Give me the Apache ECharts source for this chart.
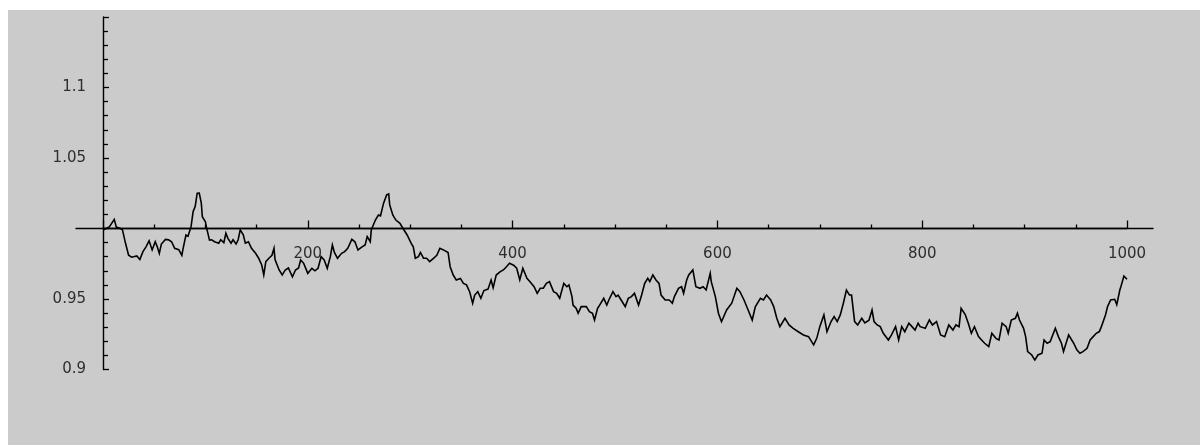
<!DOCTYPE html>
<html>
<head>
<meta charset="utf-8">
<script src="https://cdn.jsdelivr.net/npm/echarts@6/dist/echarts.min.js"></script>
<style>
  html, body { margin: 0; padding: 0; background: #ffffff; }
  #chart { position: absolute; left: 8px; top: 10px; width: 1192px; height: 435px; background: #cbcbcb; }
</style>
</head>
<body>
<div id="chart"></div>
<script>
// Step index of each sample along the walk
const steps = [
  0, 3, 6, 11, 13, 17, 19, 22, 25, 28, 33, 36, 39, 42, 45, 48, 51, 53, 55, 57,
  61, 64, 67, 70, 74, 77, 78, 81, 83, 86, 88, 90, 92, 94, 96, 97, 100, 101, 104, 106,
  109, 113, 115, 118, 120, 122, 125, 127, 130, 132, 134, 137, 139, 142, 145, 149, 152, 155, 157, 159,
  162, 165, 167, 168, 172, 175, 178, 181, 185, 188, 191, 193, 196, 200, 204, 207, 210, 213, 216, 219,
  222, 224, 226, 229, 233, 236, 239, 243, 246, 249, 253, 256, 258, 261, 262, 266, 269, 271, 274, 277,
  279, 280, 283, 286, 290, 293, 297, 298, 301, 303, 305, 308, 310, 313, 316, 319, 323, 326, 329, 332,
  337, 339, 342, 345, 349, 352, 355, 358, 361, 363, 366, 369, 372, 376, 379, 381, 384, 388, 391, 394,
  397, 401, 404, 407, 410, 414, 417, 421, 424, 427, 430, 433, 436, 440, 443, 446, 450, 453, 455, 458,
  459, 462, 464, 467, 472, 475, 478, 480, 483, 485, 489, 492, 494, 498, 501, 503, 506, 510, 513, 516,
  519, 523, 526, 529, 532, 534, 537, 540, 543, 545, 549, 553, 556, 558, 562, 565, 567, 570, 572, 576,
  579, 583, 586, 589, 593, 594, 598, 601, 604, 609, 614, 619, 622, 626, 630, 634, 637, 642, 645, 648,
  652, 655, 658, 661, 666, 670, 674, 679, 684, 689, 694, 697, 700, 704, 707, 711, 714, 717, 720, 723,
  726, 729, 731, 734, 737, 741, 744, 748, 751, 753, 756, 759, 762, 767, 770, 774, 777, 780, 783, 787,
  790, 793, 796, 798, 803, 807, 810, 814, 818, 822, 826, 830, 833, 836, 838, 842, 845, 848, 851, 855,
  858, 861, 865, 868, 872, 875, 878, 882, 884, 887, 891, 893, 895, 899, 901, 903, 907, 910, 913, 917,
  919, 922, 925, 930, 933, 936, 938, 943, 946, 948, 951, 954, 957, 961, 964, 967, 970, 973, 975, 979,
  981, 984, 988, 990, 993, 994, 997, 1000
];

// Walk level at each step
const levels = [
  0.999, 1.000, 1.001, 1.0065, 1.001, 1.000, 0.999, 0.9895, 0.981, 0.9796, 0.9805, 0.978, 0.9836, 0.987, 0.9913, 0.9848, 0.9906, 0.987, 0.9824, 0.989,
  0.9923, 0.992, 0.9906, 0.986, 0.985, 0.981, 0.985, 0.9954, 0.9945, 1.0013, 1.012, 1.0155, 1.025, 1.0251, 1.018, 1.0084, 1.0048, 1.001, 0.9918, 0.992,
  0.9906, 0.9896, 0.992, 0.990, 0.9966, 0.993, 0.9896, 0.992, 0.989, 0.992, 0.999, 0.9956, 0.9896, 0.9906, 0.986, 0.9824, 0.9789, 0.9741, 0.967, 0.9765,
  0.9789, 0.981, 0.986, 0.978, 0.9706, 0.967, 0.9706, 0.972, 0.9658, 0.9706, 0.972, 0.9777, 0.9753, 0.9682, 0.9718, 0.970, 0.9718, 0.980, 0.9777, 0.9718,
  0.980, 0.9883, 0.983, 0.9789, 0.9824, 0.9836, 0.986, 0.9923, 0.9906, 0.9848, 0.987, 0.9883, 0.9942, 0.9906, 0.999, 1.006, 1.0096, 1.009, 1.018, 1.0238,
  1.0245, 1.0167, 1.0096, 1.006, 1.0037, 1.000, 0.9954, 0.9966, 0.9895, 0.987, 0.9789, 0.980, 0.983, 0.979, 0.9789, 0.9765, 0.979, 0.981, 0.986, 0.985,
  0.983, 0.9729, 0.967, 0.9635, 0.9646, 0.9611, 0.960, 0.9552, 0.947, 0.9528, 0.9552, 0.9505, 0.956, 0.957, 0.9635, 0.958, 0.967, 0.9694, 0.9706, 0.9729,
  0.9753, 0.974, 0.9718, 0.9635, 0.9718, 0.9647, 0.9623, 0.9587, 0.954, 0.9576, 0.9576, 0.9611, 0.9623, 0.9552, 0.954, 0.9505, 0.9611, 0.9587, 0.960, 0.9517,
  0.9457, 0.9434, 0.9399, 0.9446, 0.9446, 0.941, 0.9399, 0.9351, 0.9434, 0.9457, 0.9505, 0.9457, 0.9493, 0.9552, 0.9517, 0.9528, 0.9493, 0.9446, 0.9505, 0.9517,
  0.954, 0.9457, 0.9528, 0.9611, 0.9647, 0.9623, 0.967, 0.9635, 0.9611, 0.9528, 0.9493, 0.9493, 0.947, 0.9517, 0.9576, 0.9587, 0.954, 0.9635, 0.967, 0.9706,
  0.9587, 0.9576, 0.9587, 0.9564, 0.9682, 0.9623, 0.9517, 0.9399, 0.9339, 0.9422, 0.947, 0.9576, 0.9552, 0.9493, 0.9422, 0.9351, 0.9445, 0.9505, 0.9493, 0.9528,
  0.9493, 0.9446, 0.9363, 0.9304, 0.9363, 0.9316, 0.9292, 0.9268, 0.9245, 0.9233, 0.9175, 0.9221, 0.9304, 0.9387, 0.9268, 0.934, 0.9375, 0.934, 0.9387, 0.947,
  0.9564, 0.9528, 0.9528, 0.934, 0.9316, 0.9363, 0.933, 0.935, 0.9422, 0.934, 0.9316, 0.9304, 0.9257, 0.9209, 0.9245, 0.9304, 0.9209, 0.9304, 0.9268, 0.9328,
  0.9304, 0.928, 0.9328, 0.9304, 0.9292, 0.9351, 0.9316, 0.934, 0.9245, 0.9233, 0.9316, 0.928, 0.9316, 0.9304, 0.9434, 0.939, 0.9328, 0.9257, 0.9304, 0.9233,
  0.9209, 0.9186, 0.9162, 0.9257, 0.9221, 0.9209, 0.9328, 0.9304, 0.9257, 0.9351, 0.9363, 0.9399, 0.9351, 0.9292, 0.9233, 0.9127, 0.9103, 0.9067, 0.9103, 0.9115,
  0.9209, 0.9186, 0.9198, 0.9292, 0.9233, 0.9186, 0.9127, 0.9245, 0.9209, 0.9186, 0.9139, 0.9115, 0.9127, 0.915, 0.9209, 0.9233, 0.9257, 0.9269, 0.9304, 0.9387,
  0.9446, 0.9493, 0.9498, 0.946, 0.9564, 0.9587, 0.9663, 0.964
];

// Axis tick values
const xTicks = [200, 400, 600, 800, 1000];
const yTicks = [0.9, 0.95, 1.05, 1.1];

const labelFont = {
  fontFamily: "'DejaVu Sans', Verdana, sans-serif",
  fontSize: 15,
  color: '#2e2e2e'
};

const chart = echarts.init(document.getElementById('chart'), null, { renderer: 'canvas' });

const walk = steps.map((s, i) => [s, levels[i]]);

chart.setOption({
  animation: false,
  backgroundColor: '#cbcbcb',
  grid: [
    // plotting area: x 0..1000, y 0.9..1.15
    { left: 95, top: 7, width: 1024, height: 352.5 },
    // horizontal axis crossing at level 1
    { left: 95, top: 7, width: 1024, height: 211.5 },
    // padded extent of the horizontal axis line
    { left: 68, top: 7, width: 1077, height: 211.5 }
  ],
  xAxis: [
    { gridIndex: 0, type: 'value', min: 0, max: 1000, show: false },
    {
      gridIndex: 1, type: 'value', min: 0, max: 1000, interval: 200,
      position: 'bottom',
      axisLine: { show: true, onZero: false, lineStyle: { color: '#000', width: 1.4 } },
      axisTick: { show: true, inside: true, length: 8, lineStyle: { color: '#000', width: 1.3 } },
      minorTick: { show: true, splitNumber: 4, length: 4, lineStyle: { color: '#000', width: 1.3 } },
      splitLine: { show: false },
      axisLabel: Object.assign({
        margin: 18,
        formatter: v => (xTicks.indexOf(v) >= 0 ? String(v) : '')
      }, labelFont)
    },
    {
      gridIndex: 2, type: 'value', min: 0, max: 1, position: 'bottom',
      axisLine: { show: true, onZero: false, lineStyle: { color: '#000', width: 1.4 } },
      axisTick: { show: false }, axisLabel: { show: false }, splitLine: { show: false }
    }
  ],
  yAxis: [
    {
      gridIndex: 0, type: 'value', min: 0.9, max: 1.15, interval: 0.05,
      position: 'left',
      axisLine: { show: true, onZero: false, lineStyle: { color: '#000', width: 1.4 } },
      axisTick: { show: true, inside: true, length: 6, lineStyle: { color: '#000', width: 1.3 } },
      minorTick: { show: true, splitNumber: 5, length: 5, lineStyle: { color: '#000', width: 1.3 } },
      splitLine: { show: false },
      axisLabel: Object.assign({
        margin: 17,
        formatter: v => {
          const hit = yTicks.find(t => Math.abs(t - v) < 1e-9);
          return hit === undefined ? '' : String(hit);
        }
      }, labelFont)
    },
    { gridIndex: 1, type: 'value', min: 0, max: 1, show: false },
    { gridIndex: 2, type: 'value', min: 0, max: 1, show: false }
  ],
  series: [
    {
      type: 'line',
      xAxisIndex: 0,
      yAxisIndex: 0,
      data: walk,
      showSymbol: false,
      symbol: 'none',
      lineStyle: { color: '#000', width: 1.6, join: 'miter' },
      z: 5
    }
  ]
});
</script>
</body>
</html>
